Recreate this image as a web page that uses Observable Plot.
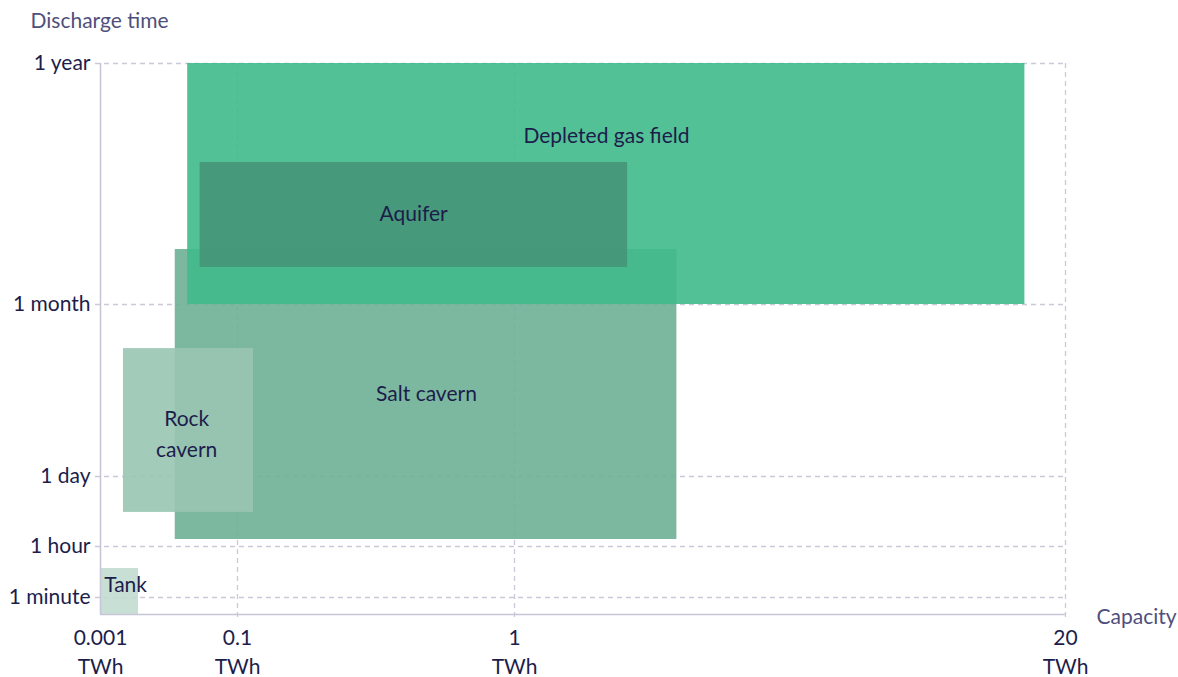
<!DOCTYPE html>
<html>
<head>
<meta charset="utf-8">
<script src="https://cdn.jsdelivr.net/npm/d3@7"></script>
<script src="https://cdn.jsdelivr.net/npm/@observablehq/plot@0.6"></script>
<style>
  html, body { margin: 0; padding: 0; background: #ffffff; }
  #chart svg { display: block; }
</style>
</head>
<body>
<div id="chart"></div>
<script>
// ---- Data (capacity in TWh, discharge time in hours) ----
const storageTypes = ["Salt cavern", "Rock cavern", "Depleted gas field", "Aquifer", "Tank"];
const capacityMin  = [0.055, 0.0176, 0.064, 0.073, 0.001];
const capacityMax  = [6.6, 0.152, 18.6, 4.9, 0.0285];
const dischargeMin = [3.3, 12.2, 730, 1963, 0];
const dischargeMax = [2563, 549, 8760, 5461, 0.576];

const labelTexts = ["Depleted gas field", "Aquifer", "Salt cavern", "Rock\ncavern", "Tank"];
const labelCapacity = [4.17, 0.672, 0.714, 0.0633, 0.0191];
const labelDischarge = [6330, 3730, 360, 196, 0.25];

const capacityTicks = [0.001, 0.1, 1, 20];
const capacityTickLabels = ["0.001", "0.1", "1", "20"];
const dischargeTicks = [1 / 60, 1, 24, 730, 8760];
const dischargeTickLabels = ["1 minute", "1 hour", "1 day", "1 month", "1 year"];

// ---- Styles ----
const boxColors = ["#6eb095", "#99c5b3", "#40ba8b", "#459577", "#c2dcd1"];
const navy = "#1c1d4b";
const titleColor = "#4f4f7d";
const gridColor = "#c9c9d9";
const axisColor = "#c6c6d6";
const fs = 21;

const boxes = storageTypes.map((t, i) => ({
  type: t, x1: capacityMin[i], x2: capacityMax[i], y1: dischargeMin[i], y2: dischargeMax[i]
}));
const labels = labelTexts.map((t, i) => ({text: t, x: labelCapacity[i], y: labelDischarge[i]}));

const chart = Plot.plot({
  width: 1178,
  height: 677,
  marginLeft: 100,
  marginRight: 113,
  marginTop: 63,
  marginBottom: 63,
  style: {fontFamily: "Lato, 'Open Sans', sans-serif", fontSize: fs + "px", color: navy, background: "#ffffff"},
  x: {type: "linear", domain: capacityTicks, range: [100, 237, 514, 1065]},
  y: {type: "linear", domain: [0, ...dischargeTicks], range: [614, 597, 546, 476, 304, 63]},
  color: {domain: storageTypes, range: boxColors},
  marks: [
    Plot.gridY(dischargeTicks, {stroke: gridColor, strokeOpacity: 1, strokeWidth: 1.3, strokeDasharray: "5,4", insetLeft: -5}),
    Plot.gridX(capacityTicks.slice(1), {stroke: gridColor, strokeOpacity: 1, strokeWidth: 1.3, strokeDasharray: "5,4", insetBottom: -6}),
    Plot.rect(boxes, {x1: "x1", x2: "x2", y1: "y1", y2: "y2", fill: "type", fillOpacity: 0.9}),
    Plot.ruleX([capacityTicks[0]], {stroke: axisColor, strokeWidth: 1.6}),
    Plot.ruleY([0], {stroke: axisColor, strokeWidth: 1.6}),
    Plot.axisY({
      ticks: dischargeTicks,
      tickFormat: d => dischargeTickLabels[dischargeTicks.indexOf(d)],
      tickSize: 0,
      tickPadding: 10,
      fontSize: fs,
      fill: navy,
      label: null
    }),
    Plot.axisX({
      ticks: capacityTicks,
      tickFormat: d => capacityTickLabels[capacityTicks.indexOf(d)] + "\nTWh",
      tickSize: 0,
      tickPadding: 9,
      fontSize: fs,
      lineHeight: 1.42,
      fill: navy,
      label: null
    }),
    Plot.text(labels, {x: "x", y: "y", text: "text", fill: navy, fontSize: fs, lineHeight: 1.45, dy: -3}),
    Plot.text(["Discharge time"], {frameAnchor: "top-left", dx: -70, textAnchor: "start", lineAnchor: "bottom", fill: titleColor, fontSize: fs, dy: -36}),
    Plot.text(["Capacity"], {frameAnchor: "bottom-right", dx: 31, dy: 9, textAnchor: "start", fill: titleColor, fontSize: fs})
  ]
});
document.getElementById("chart").appendChild(chart);
</script>
</body>
</html>
